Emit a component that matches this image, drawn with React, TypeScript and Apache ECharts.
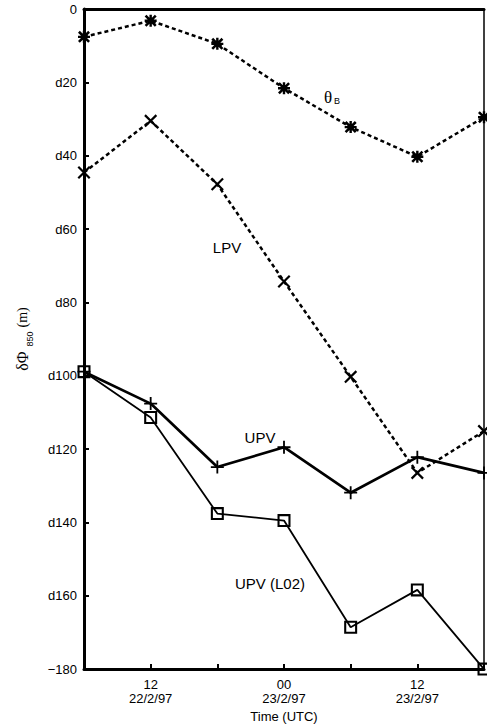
import React, { useEffect, useRef } from 'react';
import * as echarts from 'echarts';

// Six-hourly times along the x axis (labels only at 12 and 00 UTC)
const timeLabels = ['', '12\n22/2/97', '', '00\n23/2/97', '', '12\n23/2/97', ''];

// Height change of the 850 hPa surface (m) for each inversion
const thetaB = [-7.6, -3.2, -9.5, -21.6, -32.2, -40.3, -29.5];
const lpv = [-44.6, -30.5, -47.8, -74.3, -100.3, -126.5, -115.1];
const upv = [-98.9, -107.6, -124.9, -119.5, -131.9, -122.2, -126.5];
const upvL02 = [-98.9, -111.4, -137.6, -139.5, -168.6, -158.4, -180];

// Y axis tick values and the labels printed next to them
const yTickValues = [0, -20, -40, -60, -80, -100, -120, -140, -160, -180];
const yTickLabels = ['0', 'd20', 'd40', 'd60', 'd80', 'd100', 'd120', 'd140', 'd160', '\u2212180'];

const SANS = '"Liberation Sans", Arial, Helvetica, sans-serif';
const SERIF = '"Liberation Serif", "Times New Roman", serif';

// Marker outlines drawn in a 100x100 box
const SYM_CROSS = 'path://M0 12 L12 0 L100 88 L88 100 Z M88 0 L100 12 L12 100 L0 88 Z';
const SYM_PLUS = 'path://M43 0 H57 V100 H43 Z M0 43 H100 V57 H0 Z';
const SYM_STAR =
  'path://M40 0 H60 V100 H40 Z M0 40 H100 V60 H0 Z M0 15 L15 0 L100 85 L85 100 Z M85 0 L100 15 L15 100 L0 85 Z';
const SYM_SQUARE = 'path://M0 0 H100 V100 H0 Z M16 16 V84 H84 V16 Z';

function makeSeries(name: string, data: number[], symbol: string, size: number, lineStyle: any) {
  return {
    type: 'line',
    name,
    data,
    symbol,
    symbolSize: size,
    showSymbol: true,
    clip: false,
    lineStyle: { color: '#000', ...lineStyle },
    itemStyle: { color: '#000', borderWidth: 0 },
    emphasis: { disabled: true },
  };
}

function annot(text: string, x: number, y: number, font: string, align = 'center') {
  return {
    type: 'text',
    x,
    y,
    style: { text, font, fill: '#000', align, verticalAlign: 'middle' },
  };
}

export default function App() {
  const ref = useRef<HTMLDivElement>(null);

  useEffect(() => {
    if (!ref.current) return;
    const chart = echarts.init(ref.current, undefined, { renderer: 'svg' });

    const option: any = {
      animation: false,
      backgroundColor: '#fff',
      grid: { left: 84, right: 1, top: 9, bottom: 53 },
      xAxis: [
        {
          type: 'category',
          data: timeLabels,
          boundaryGap: false,
          position: 'bottom',
          name: 'Time (UTC)',
          nameLocation: 'middle',
          nameGap: 38,
          nameTextStyle: { fontFamily: SANS, fontSize: 13, color: '#000' },
          axisLine: { onZero: false, lineStyle: { color: '#000', width: 3 } },
          axisTick: { inside: true, length: 5, interval: 0, lineStyle: { color: '#000', width: 2 } },
          axisLabel: {
            interval: 0,
            margin: 8,
            fontFamily: SANS,
            fontSize: 13,
            lineHeight: 14,
            color: '#000',
          },
          splitLine: { show: false },
        },
        {
          type: 'category',
          data: timeLabels,
          boundaryGap: false,
          position: 'top',
          axisLine: { onZero: false, lineStyle: { color: '#000', width: 3 } },
          axisTick: { show: false },
          axisLabel: { show: false },
          splitLine: { show: false },
        },
      ],
      yAxis: [
        {
          type: 'value',
          min: -180,
          max: 0,
          interval: 20,
          position: 'left',
          // δΦ with subscript 850, then (m), reading upward
          name: '{a|\u03B4\u03A6}{b|850}{c|(m)}',
          nameLocation: 'middle',
          nameRotate: 90,
          nameGap: 50,
          nameTextStyle: {
            color: '#000',
            rich: {
              a: { fontFamily: SERIF, fontSize: 16, lineHeight: 24, verticalAlign: 'middle', color: '#000' },
              b: { fontFamily: SANS, fontSize: 9, lineHeight: 24, verticalAlign: 'bottom', padding: [0, 4, 0, 5], color: '#000' },
              c: { fontFamily: SERIF, fontSize: 14, lineHeight: 24, verticalAlign: 'middle', color: '#000' },
            },
          },
          axisLine: { show: true, onZero: false, lineStyle: { color: '#000', width: 3 } },
          axisTick: { show: true, inside: true, length: 5, lineStyle: { color: '#000', width: 2 } },
          axisLabel: {
            margin: 7,
            fontFamily: SANS,
            fontSize: 13,
            color: '#000',
            formatter: (v: number) => {
              const i = yTickValues.indexOf(v);
              return i >= 0 ? yTickLabels[i] : '';
            },
          },
          splitLine: { show: false },
        },
        {
          type: 'value',
          min: -180,
          max: 0,
          interval: 20,
          position: 'right',
          axisLine: { show: true, onZero: false, lineStyle: { color: '#000', width: 1.5 } },
          axisTick: { show: false },
          axisLabel: { show: false },
          splitLine: { show: false },
        },
      ],
      series: [
        makeSeries('thetaB', thetaB, SYM_STAR, 12, { width: 2.5, type: [4, 3] }),
        makeSeries('LPV', lpv, SYM_CROSS, 13, { width: 2.5, type: [4, 3] }),
        makeSeries('UPV (L02)', upvL02, SYM_SQUARE, 13, { width: 1.8 }),
        makeSeries('UPV', upv, SYM_PLUS, 13, { width: 2.7 }),
      ],
      graphic: [
        annot('\u03B8', 328, 97, `17px ${SERIF}`),
        annot('B', 334, 101, `9px ${SANS}`, 'left'),
        annot('LPV', 227, 247, `15px ${SANS}`),
        annot('UPV', 260, 437, `15px ${SANS}`),
        annot('UPV (L02)', 270, 583, `15px ${SANS}`),
      ],
    };

    chart.setOption(option);
    return () => chart.dispose();
  }, []);

  return (
    <div
      ref={ref}
      style={{ position: 'absolute', left: 0, top: 0, width: 487, height: 728, background: '#fff' }}
    />
  );
}
